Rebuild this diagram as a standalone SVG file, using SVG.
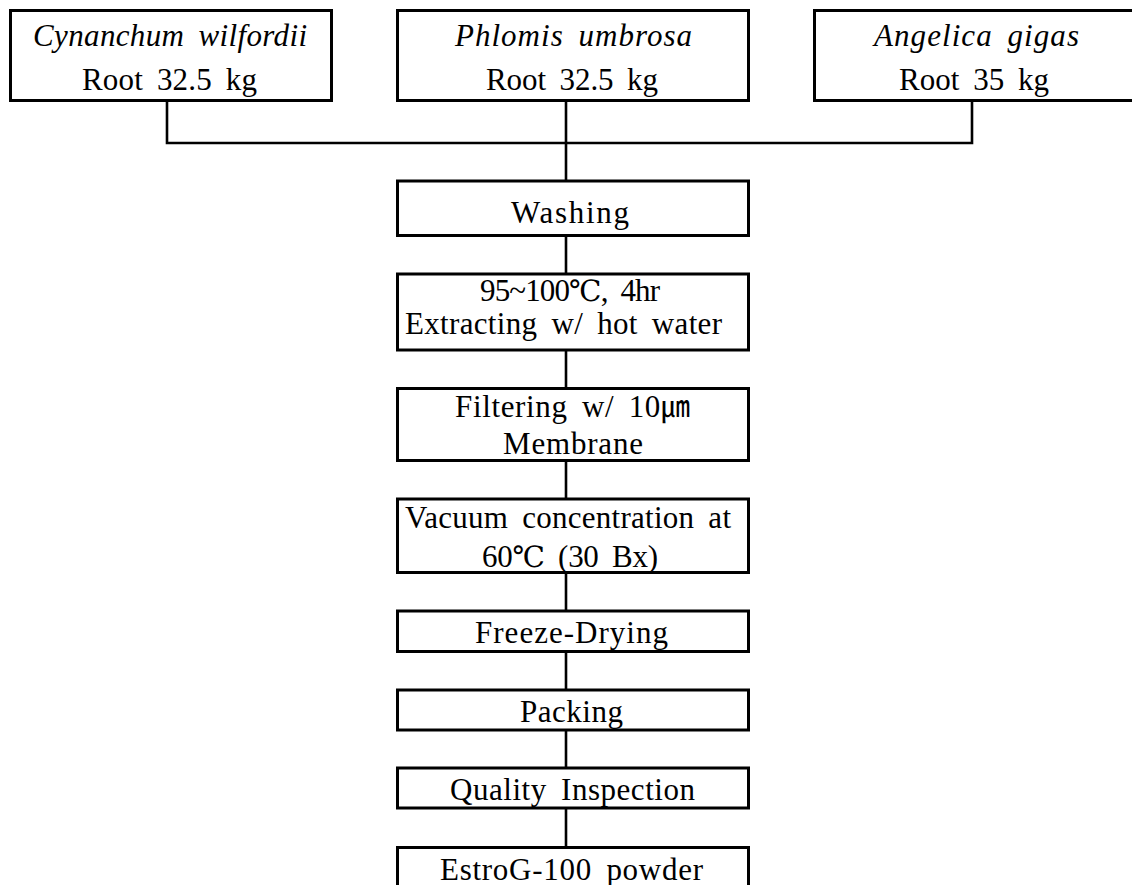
<svg xmlns="http://www.w3.org/2000/svg" width="1132" height="885" viewBox="0 0 1132 885">
<style>
.box{fill:#fff;stroke:#000;stroke-width:3}
.ln{fill:none;stroke:#000;stroke-width:2.6}
text{font-family:"Liberation Serif","DejaVu Serif","Noto Sans CJK KR",serif;font-size:31px;word-spacing:6px;fill:#000}
.it{font-style:italic}
.sym{font-family:"DejaVu Serif","Noto Sans CJK KR",serif;font-size:29px}
</style>
<rect width="1132" height="885" fill="#fff"/>
<g id="connectors">
<polyline class="ln" points="167,101 167,143 972,143 972,101"/>
<line class="ln" x1="566" y1="101" x2="566" y2="181"/>
<line class="ln" x1="566" y1="236" x2="566" y2="274"/>
<line class="ln" x1="566" y1="350" x2="566" y2="388"/>
<line class="ln" x1="566" y1="461" x2="566" y2="499"/>
<line class="ln" x1="566" y1="573" x2="566" y2="611"/>
<line class="ln" x1="566" y1="651" x2="566" y2="690"/>
<line class="ln" x1="566" y1="730" x2="566" y2="768"/>
<line class="ln" x1="566" y1="808" x2="566" y2="848"/>
</g>
<g id="cynanchum">
<rect class="box" x="10.5" y="10.5" width="321" height="90"/>
<text class="it" x="33" y="46" textLength="274" lengthAdjust="spacing">Cynanchum wilfordii</text>
<text x="82" y="90" textLength="175" lengthAdjust="spacing">Root 32.5 kg</text>
</g>
<g id="phlomis">
<rect class="box" x="397.5" y="10.5" width="351" height="90"/>
<text class="it" x="455" y="46" textLength="237" lengthAdjust="spacing">Phlomis umbrosa</text>
<text x="486" y="90" textLength="172" lengthAdjust="spacing">Root 32.5 kg</text>
</g>
<g id="angelica">
<rect class="box" x="814.5" y="10.5" width="322" height="90"/>
<text class="it" x="874" y="46" textLength="205" lengthAdjust="spacing">Angelica gigas</text>
<text x="899" y="90" textLength="150" lengthAdjust="spacing">Root 35 kg</text>
</g>
<g id="washing">
<rect class="box" x="397.5" y="181" width="351" height="54.5"/>
<text x="511" y="223" textLength="118" lengthAdjust="spacing">Washing</text>
</g>
<g id="extracting">
<rect class="box" x="397.5" y="274" width="351" height="76"/>
<text x="480" y="301" textLength="180" lengthAdjust="spacing">95~100<tspan class="sym">℃</tspan>, 4hr</text>
<text x="405" y="334" textLength="317" lengthAdjust="spacing">Extracting w/ hot water</text>
</g>
<g id="filtering">
<rect class="box" x="397.5" y="388.5" width="351" height="72"/>
<text x="455" y="417" textLength="235" lengthAdjust="spacing">Filtering w/ 10<tspan class="sym">㎛</tspan></text>
<text x="503" y="454" textLength="140" lengthAdjust="spacing">Membrane</text>
</g>
<g id="vacuum">
<rect class="box" x="397.5" y="499" width="351" height="73.5"/>
<text x="405" y="528" textLength="326" lengthAdjust="spacing">Vacuum concentration at</text>
<text x="482" y="567" textLength="176" lengthAdjust="spacing">60<tspan class="sym">℃</tspan> (30 Bx)</text>
</g>
<g id="freeze">
<rect class="box" x="397.5" y="611" width="351" height="40.5"/>
<text x="475" y="643" textLength="193" lengthAdjust="spacing">Freeze-Drying</text>
</g>
<g id="packing">
<rect class="box" x="397.5" y="690" width="351" height="40"/>
<text x="520" y="722" textLength="103" lengthAdjust="spacing">Packing</text>
</g>
<g id="quality">
<rect class="box" x="397.5" y="768" width="351" height="40"/>
<text x="450" y="800" textLength="245" lengthAdjust="spacing">Quality Inspection</text>
</g>
<g id="estrog">
<rect class="box" x="397.5" y="847.5" width="351" height="60"/>
<text x="440" y="880" textLength="263" lengthAdjust="spacing">EstroG-100 powder</text>
</g>
</svg>
